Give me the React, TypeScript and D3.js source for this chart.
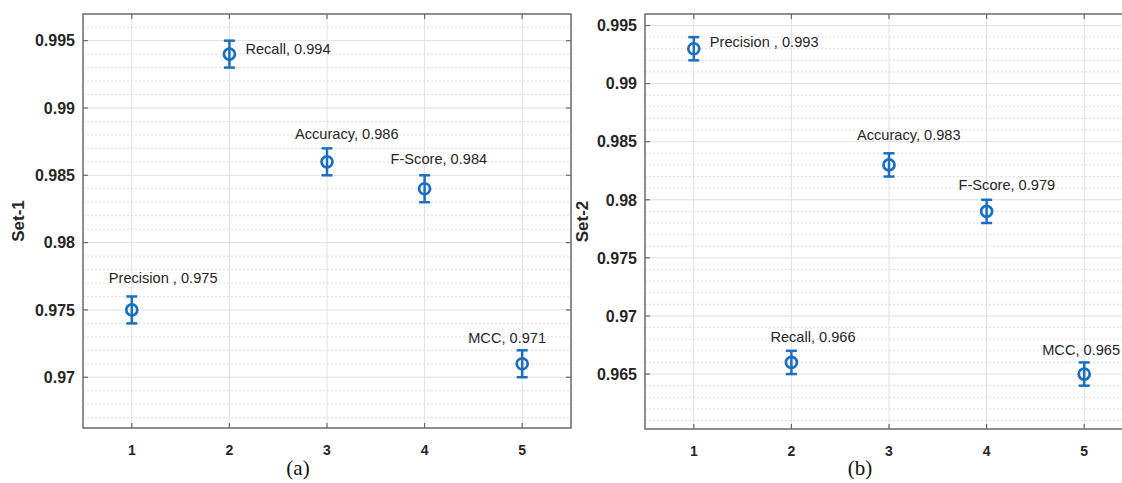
import React, { useEffect, useRef } from 'react';
import * as d3 from 'd3';

const metrics = ["Precision", "Recall", "Accuracy", "F-Score", "MCC"];
const xPositions = [1, 2, 3, 4, 5];

const values1 = [0.975, 0.994, 0.986, 0.984, 0.971];
const errors1 = [0.001, 0.001, 0.001, 0.001, 0.001];
const labels1 = ["Precision , 0.975", "Recall, 0.994", "Accuracy, 0.986", "F-Score, 0.984", "MCC, 0.971"];
const yTicks1 = [0.97, 0.975, 0.98, 0.985, 0.99, 0.995];

const values2 = [0.993, 0.966, 0.983, 0.979, 0.965];
const errors2 = [0.001, 0.001, 0.001, 0.001, 0.001];
const labels2 = ["Precision , 0.993", "Recall, 0.966", "Accuracy, 0.983", "F-Score, 0.979", "MCC, 0.965"];
const yTicks2 = [0.965, 0.97, 0.975, 0.98, 0.985, 0.99, 0.995];

// pixel offsets of each annotation from its marker (hand placed in the original)
const labelOffsets1 = [[-23, -27], [16, 0], [-32, -23], [-34, -25], [-54, -21]];
const labelOffsets2 = [[16, -2], [-21, -20], [-32, -25], [-28, -21], [-42, -19]];

const BLUE = "#1a6fc4";
const SANS = "'Liberation Sans', Arial, Helvetica, sans-serif";

interface PanelSpec {
  left: number;
  right: number;
  top: number;
  bottom: number;
  yDomain: [number, number];
  values: number[];
  errors: number[];
  labels: string[];
  offsets: number[][];
  yTicks: number[];
  yTitle: string;
  titleX: number;
  caption: string;
  captionX: number;
}

const App: React.FC = () => {
  const svgRef = useRef<SVGSVGElement | null>(null);

  useEffect(() => {
    if (!svgRef.current) return;
    const svg = d3.select(svgRef.current);
    svg.selectAll("*").remove();

    const panels: PanelSpec[] = [
      {
        left: 83, right: 571, top: 14, bottom: 428,
        yDomain: [0.96623, 0.99698],
        values: values1, errors: errors1, labels: labels1, offsets: labelOffsets1,
        yTicks: yTicks1, yTitle: "Set-1", titleX: 24, caption: "(a)", captionX: 298,
      },
      {
        left: 645, right: 1133, top: 14, bottom: 429,
        yDomain: [0.96027, 0.99599],
        values: values2, errors: errors2, labels: labels2, offsets: labelOffsets2,
        yTicks: yTicks2, yTitle: "Set-2", titleX: 588, caption: "(b)", captionX: 860,
      },
    ];

    panels.forEach(p => {
      const x = d3.scaleLinear().domain([0.5, 5.5]).range([p.left, p.right]);
      const y = d3.scaleLinear().domain(p.yDomain).range([p.bottom, p.top]);
      const g = svg.append("g");

      // minor grid (y every 0.001)
      const minor = d3.range(Math.ceil(p.yDomain[0] * 1000), Math.floor(p.yDomain[1] * 1000) + 1)
        .map(v => v / 1000)
        .filter(v => !p.yTicks.some(t => Math.abs(t - v) < 1e-9));
      g.append("g").selectAll("line").data(minor).join("line")
        .attr("x1", p.left).attr("x2", p.right)
        .attr("y1", d => y(d)).attr("y2", d => y(d))
        .attr("stroke", "#dedede").attr("stroke-width", 1)
        .attr("stroke-dasharray", "2,2");

      // major grid
      g.append("g").selectAll("line").data(p.yTicks).join("line")
        .attr("x1", p.left).attr("x2", p.right)
        .attr("y1", d => y(d)).attr("y2", d => y(d))
        .attr("stroke", "#e0e0e0").attr("stroke-width", 1);
      g.append("g").selectAll("line").data(xPositions).join("line")
        .attr("x1", d => x(d)).attr("x2", d => x(d))
        .attr("y1", p.top).attr("y2", p.bottom)
        .attr("stroke", "#e0e0e0").attr("stroke-width", 1);

      // axes box
      g.append("rect")
        .attr("x", p.left).attr("y", p.top)
        .attr("width", p.right - p.left).attr("height", p.bottom - p.top)
        .attr("fill", "none").attr("stroke", "#6a6a6a").attr("stroke-width", 1.5);

      // inward ticks
      const tl = 5;
      g.append("g").selectAll("line").data(p.yTicks).join("line")
        .attr("x1", p.left).attr("x2", p.left + tl)
        .attr("y1", d => y(d)).attr("y2", d => y(d))
        .attr("stroke", "#6a6a6a").attr("stroke-width", 1.2);
      g.append("g").selectAll("line").data(p.yTicks).join("line")
        .attr("x1", p.right).attr("x2", p.right - tl)
        .attr("y1", d => y(d)).attr("y2", d => y(d))
        .attr("stroke", "#6a6a6a").attr("stroke-width", 1.2);
      g.append("g").selectAll("line").data(xPositions).join("line")
        .attr("x1", d => x(d)).attr("x2", d => x(d))
        .attr("y1", p.bottom).attr("y2", p.bottom - tl)
        .attr("stroke", "#6a6a6a").attr("stroke-width", 1.2);
      g.append("g").selectAll("line").data(xPositions).join("line")
        .attr("x1", d => x(d)).attr("x2", d => x(d))
        .attr("y1", p.top).attr("y2", p.top + tl)
        .attr("stroke", "#6a6a6a").attr("stroke-width", 1.2);

      // tick labels
      g.append("g").selectAll("text").data(p.yTicks).join("text")
        .attr("x", p.left - 8).attr("y", d => y(d)).attr("dy", "0.36em")
        .attr("text-anchor", "end")
        .attr("font-family", SANS).attr("font-size", 16).attr("font-weight", "bold")
        .attr("fill", "#262626")
        .text(d => d3.format("")(+d.toFixed(3)));
      g.append("g").selectAll("text").data(xPositions).join("text")
        .attr("x", d => x(d)).attr("y", p.bottom + 27)
        .attr("text-anchor", "middle")
        .attr("font-family", SANS).attr("font-size", 14).attr("font-weight", "bold")
        .attr("fill", "#262626")
        .text(d => String(d));

      // y title
      g.append("text")
        .attr("transform", `translate(${p.titleX},${(p.top + p.bottom) / 2}) rotate(-90)`)
        .attr("text-anchor", "middle")
        .attr("font-family", SANS).attr("font-size", 17).attr("font-weight", "bold")
        .attr("fill", "#262626")
        .text(p.yTitle);

      // caption
      g.append("text")
        .attr("x", p.captionX).attr("y", 475)
        .attr("text-anchor", "middle")
        .attr("font-family", "'Liberation Serif', 'Times New Roman', serif")
        .attr("font-size", 21).attr("fill", "#111")
        .text(p.caption);

      // error bars + markers
      const pts = p.values.map((v, i) => ({ x: xPositions[i], v, e: p.errors[i], label: p.labels[i], off: p.offsets[i], name: metrics[i] }));
      const pg = g.append("g").selectAll("g").data(pts).join("g");
      pg.append("line")
        .attr("x1", d => x(d.x)).attr("x2", d => x(d.x))
        .attr("y1", d => y(d.v - d.e)).attr("y2", d => y(d.v + d.e))
        .attr("stroke", BLUE).attr("stroke-width", 2.5);
      pg.append("line")
        .attr("x1", d => x(d.x) - 5.5).attr("x2", d => x(d.x) + 5.5)
        .attr("y1", d => y(d.v + d.e)).attr("y2", d => y(d.v + d.e))
        .attr("stroke", BLUE).attr("stroke-width", 2.5);
      pg.append("line")
        .attr("x1", d => x(d.x) - 5.5).attr("x2", d => x(d.x) + 5.5)
        .attr("y1", d => y(d.v - d.e)).attr("y2", d => y(d.v - d.e))
        .attr("stroke", BLUE).attr("stroke-width", 2.5);
      pg.append("circle")
        .attr("cx", d => x(d.x)).attr("cy", d => y(d.v))
        .attr("r", 5.5)
        .attr("fill", "none")
        .attr("stroke", BLUE).attr("stroke-width", 2.7);
      pg.append("text")
        .attr("x", d => x(d.x) + d.off[0]).attr("y", d => y(d.v) + d.off[1])
        .attr("font-family", SANS).attr("font-size", 14.6)
        .attr("fill", "#262626")
        .text(d => d.label);
    });
  }, []);

  return (
    <svg
      ref={svgRef}
      width={1122}
      height={483}
      style={{ position: "absolute", left: 0, top: 0, background: "white" }}
    />
  );
};

export default App;
